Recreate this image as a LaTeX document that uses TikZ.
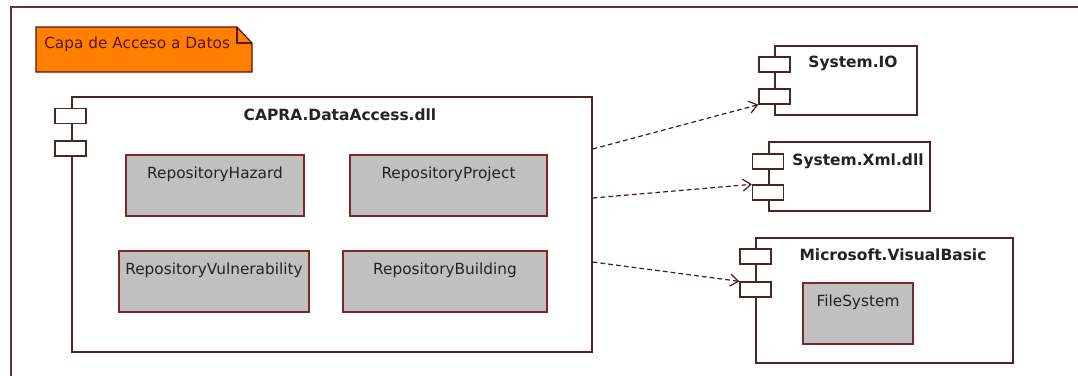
\documentclass[tikz,border=0pt]{standalone}
\usepackage{fontspec}
\setmainfont{DejaVu Sans}
\usetikzlibrary{arrows.meta}
\definecolor{frame}{RGB}{100,50,55}
\definecolor{boxline}{RGB}{80,35,38}
\definecolor{repline}{RGB}{125,40,40}
\definecolor{repfill}{RGB}{192,192,192}
\definecolor{notefill}{RGB}{255,128,0}
\definecolor{notetext}{RGB}{90,20,10}
\definecolor{txt}{RGB}{35,35,35}
\begin{document}
\begin{tikzpicture}[x=0.75pt,y=-0.75pt,
  comp/.style={draw=boxline, line width=1pt, fill=white, inner sep=0pt},
  port/.style={draw=boxline, line width=1pt, fill=white, minimum width=23.25pt, minimum height=11.25pt, inner sep=0pt},
  repo/.style={draw=repline, line width=1pt, fill=repfill, minimum height=45.75pt, inner sep=0pt},
  title/.style={font=\bfseries\fontsize{11.6}{13}\selectfont, text=txt},
  lbl/.style={font=\fontsize{11.5}{13}\selectfont, text=txt},
  replbl/.style={lbl, anchor=center, yshift=-15pt},
  dep/.style={draw=boxline!80!black, line width=0.9pt, dash pattern=on 3.5pt off 2.4pt, -{Straight Barb[length=6pt,width=9pt]}}]
\useasboundingbox (0,0) rectangle (1078,375);
\fill[white] (0,0) rectangle (1078,375);
\clip (0,0) rectangle (1078,375);
% outer frame
\draw[frame, line width=1pt] (11,390) -- (11,7) -- (1100,7);
% note
\draw[notetext, line width=0.9pt, fill=notefill] (36,27) -- (237,27) -- (252,43) -- (252,72) -- (36,72) -- cycle;
\draw[notetext, line width=0.9pt] (237,27) -- (237,43) -- (252,43);
\node[lbl, text=notetext, anchor=west, inner sep=0pt] (note) at (44,44) {Capa de Acceso a Datos};
% CAPRA component
\node[comp, minimum width=390pt, minimum height=191.25pt] (capra) at (332,224.5) {};
\node[port] (cp1) at (70.5,116) {};
\node[port] (cp2) at (70.5,148.5) {};
\node[title] (capratitle) at (340,115) {CAPRA.DataAccess.dll};
\node[repo, minimum width=133.5pt, label={[replbl]north:RepositoryHazard}] (hazard) at (215,185.5) {};
\node[repo, minimum width=147.75pt, label={[replbl]north:RepositoryProject}] (project) at (448.5,185.5) {};
\node[repo, minimum width=142.5pt, label={[replbl]north:RepositoryVulnerability}] (vuln) at (214,281.5) {};
\node[repo, minimum width=153pt, label={[replbl]north:RepositoryBuilding}] (building) at (445,281.5) {};
% System.IO
\node[comp, minimum width=106.5pt, minimum height=51.75pt] (io) at (846,80.5) {};
\node[port] (io1) at (774.5,64.5) {};
\node[port] (io2) at (774.5,96.5) {};
\node[title] (iotitle) at (853,63) {System.IO};
% System.Xml.dll
\node[comp, minimum width=120.75pt, minimum height=51.75pt] (xml) at (849.5,176.5) {};
\node[port] (xml1) at (768,161.5) {};
\node[port] (xml2) at (768,192.5) {};
\node[title] (xmltitle) at (858,161) {System.Xml.dll};
% Microsoft.VisualBasic
\node[comp, minimum width=192.75pt, minimum height=93.75pt] (mvb) at (884.5,300.5) {};
\node[port] (mvb1) at (755.5,256.5) {};
\node[port] (mvb2) at (755.5,289.5) {};
\node[title] (mvbtitle) at (893,255) {Microsoft.VisualBasic};
\node[repo, minimum width=82.5pt, label={[replbl]north:FileSystem}] (fs) at (858,313.5) {};
% dependencies
\coordinate (s1) at (capra.north east |- 0,149);
\coordinate (s2) at (capra.north east |- 0,198);
\coordinate (s3) at (capra.north east |- 0,262);
\draw[dep] (s1) -- (io2.south west);
\draw[dep] (s2) -- (xml2.north west);
\draw[dep] (s3) -- (mvb2.north west);
\end{tikzpicture}
\end{document}
